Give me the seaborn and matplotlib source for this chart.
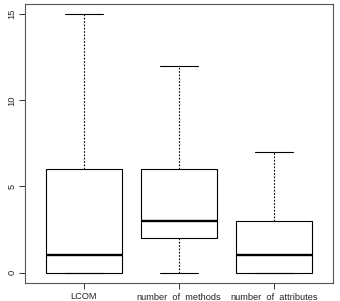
import numpy as np
import pandas as pd
import matplotlib
matplotlib.use("Agg")
import matplotlib.pyplot as plt
import seaborn as sns

# small samples chosen so the box statistics match the picture
lcom = [0, 0, 0, 1, 6, 6, 15]
n_methods = [0, 2, 2, 3, 6, 6, 12]
n_attributes = [0, 0, 0, 1, 3, 3, 7]
labels = ["LCOM", "number_of_methods", "number_of_attributes"]

df = pd.DataFrame({
    "metric": [labels[0]] * len(lcom) + [labels[1]] * len(n_methods) + [labels[2]] * len(n_attributes),
    "value": lcom + n_methods + n_attributes,
})

sns.set_style("white")
plt.rcParams["font.family"] = ["Liberation Sans", "DejaVu Sans"]

fig = plt.figure(figsize=(3.4, 3.01), dpi=100)
ax = fig.add_axes([0.0735, 0.06, 0.906, 0.927])

sns.boxplot(data=df, x="metric", y="value", order=labels, ax=ax,
            color="white", linecolor="black", linewidth=0.8, width=0.8,
            whis=1.5, showfliers=False,
            whiskerprops={"linestyle": (0, (1.5, 1.5))},
            medianprops={"linewidth": 1.7})

ax.set_xlim(-0.62, 2.62)
ax.set_ylim(-0.6, 15.6)
ax.set_yticks([0, 5, 10, 15])
ax.set_xlabel("")
ax.set_ylabel("")
ax.tick_params(axis="both", direction="out", length=4, width=0.7, color="#333333",
               labelsize=6.7, pad=2, left=True, bottom=True)
ax.tick_params(axis="x", pad=2.5)
for lab in ax.get_yticklabels():
    lab.set_rotation(90)
    lab.set_va("center")
for sp in ax.spines.values():
    sp.set_visible(True)
    sp.set_color("#555555")
    sp.set_linewidth(0.8)

fig.savefig("out.png", dpi=100)
